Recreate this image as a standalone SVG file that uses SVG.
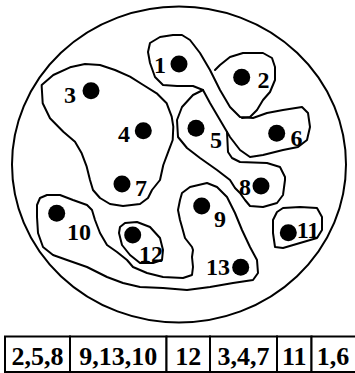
<svg xmlns="http://www.w3.org/2000/svg" width="355" height="373" viewBox="0 0 355 373">
<style>
.b{fill:none;stroke:#000;stroke-width:2;stroke-linejoin:round;stroke-linecap:round}
.d{fill:#000}
.l{font-family:"Liberation Serif","Times New Roman",serif;font-size:24px;font-weight:bold;fill:#000;text-anchor:middle}
.t{font-family:"Liberation Serif","Times New Roman",serif;font-size:26px;font-weight:bold;fill:#000;text-anchor:middle}
.c{fill:#fff;stroke:#000;stroke-width:2}
</style>
<rect width="355" height="373" fill="#fff"/>
<ellipse cx="179" cy="164.5" rx="167" ry="158" fill="none" stroke="#000" stroke-width="2"/>
<g id="regions">
<polygon class="b" points="148,52 150,43 160,37 173,35 182,35 190,40 200,53 210,70 220,90 230,107 240,117 253,118 267,113 283,110 302,107 308,113 310,127 307,140 298,147 283,150 263,155 250,157 240,150 230,137 220,120 210,103 203,90 193,86 177,86 163,85 155,77 150,63"/>
<polyline class="b" points="215,70 220,65 230,57 243,53 263,53 272,58 275,67 275,80 270,92 263,100 257,110 250,117 242,118"/>
<polyline class="b" points="203,90 193,95 182,107 177,120 178,137 187,148 200,158 217,170 230,180 235,188 240,193 245,200 250,206 263,207 277,203 283,195 285,180 285,177 280,167 267,163 240,162 232,158 228,152 227,132"/>
<polygon class="b" points="41.7,85 53.3,75 70,67.3 85,64 100,65 115,70 130,76.7 143.3,85 156.7,93.3 166.7,103.3 171.7,116.7 173.3,126.7 172.7,140 168.3,151.7 163.3,165 160,180 152,190 148,198 140,204 123,206 110,204 100,198 93,190 90,180 86.7,166.7 81.7,153.3 75,141.7 63.3,131.7 50,118.3 42.7,103.3 41.7,86.7"/>
<polygon class="b" points="40,198 47,195 60,195 73,200 87,205 92,210 95,220 100,233 107,245 117,252 127,260 133,267 147,273 163,277 183,278 192,275 193,267 192,257 193,250 192,247 185,238 182,227 180,220 178,210 180,200 182,193 190,187 207,183 217,187 227,197 235,213 242,230 250,247 257,260 258,273 253,280 233,283 210,287 187,290 163,288 140,287 123,283 107,277 87,267 67,260 53,255 43,247 38,233 37,217 37,205"/>
<polygon class="b" points="120,227 125,223 137,222 150,227 160,238 163,250 162,260 153,263 140,263 130,255 122,245 119,233"/>
<polygon class="b" points="277,212 283,208 300,207 317,208 322,217 322,230 317,238 300,243 283,248 275,247 273,233 273,220"/>
</g>
<g id="n1"><circle class="d" cx="179" cy="64" r="8.5"/><text class="l" x="160" y="72.5">1</text></g>
<g id="n2"><circle class="d" cx="241.7" cy="77.3" r="8.5"/><text class="l" x="263.5" y="88">2</text></g>
<g id="n3"><circle class="d" cx="91" cy="90.7" r="8.5"/><text class="l" x="70" y="102.5">3</text></g>
<g id="n4"><circle class="d" cx="143.3" cy="130.7" r="8.5"/><text class="l" x="124" y="141.5">4</text></g>
<g id="n5"><circle class="d" cx="196" cy="128.3" r="8.5"/><text class="l" x="216" y="148">5</text></g>
<g id="n6"><circle class="d" cx="276.7" cy="133.3" r="8.5"/><text class="l" x="296.5" y="145.5">6</text></g>
<g id="n7"><circle class="d" cx="122" cy="184" r="8.5"/><text class="l" x="141" y="196">7</text></g>
<g id="n8"><circle class="d" cx="261" cy="186" r="8.5"/><text class="l" x="245" y="195">8</text></g>
<g id="n9"><circle class="d" cx="201.7" cy="206" r="8.5"/><text class="l" x="220" y="226.5">9</text></g>
<g id="n10"><circle class="d" cx="56.7" cy="213.3" r="8.5"/><text class="l" x="79" y="240">10</text></g>
<g id="n11"><circle class="d" cx="288.3" cy="232.7" r="8.5"/><text class="l" x="308" y="238">11</text></g>
<g id="n12"><circle class="d" cx="132.7" cy="235" r="8.5"/><text class="l" x="151" y="261.5">12</text></g>
<g id="n13"><circle class="d" cx="240.7" cy="267.3" r="8.5"/><text class="l" x="218" y="275">13</text></g>
<g id="table">
<rect class="c" x="5" y="336.5" width="65" height="35.5"/>
<rect class="c" x="70" y="336.5" width="96.5" height="35.5"/>
<rect class="c" x="166.5" y="336.5" width="43.5" height="35.5"/>
<rect class="c" x="210" y="336.5" width="67" height="35.5"/>
<rect class="c" x="277" y="336.5" width="34.5" height="35.5"/>
<rect class="c" x="311.5" y="336.5" width="46" height="35.5"/>
<text class="t" x="37.5" y="365">2,5,8</text>
<text class="t" x="118.2" y="365">9,13,10</text>
<text class="t" x="188.2" y="365">12</text>
<text class="t" x="243.5" y="365">3,4,7</text>
<text class="t" x="294.2" y="365">11</text>
<text class="t" x="333" y="365">1,6</text>
</g>
</svg>
